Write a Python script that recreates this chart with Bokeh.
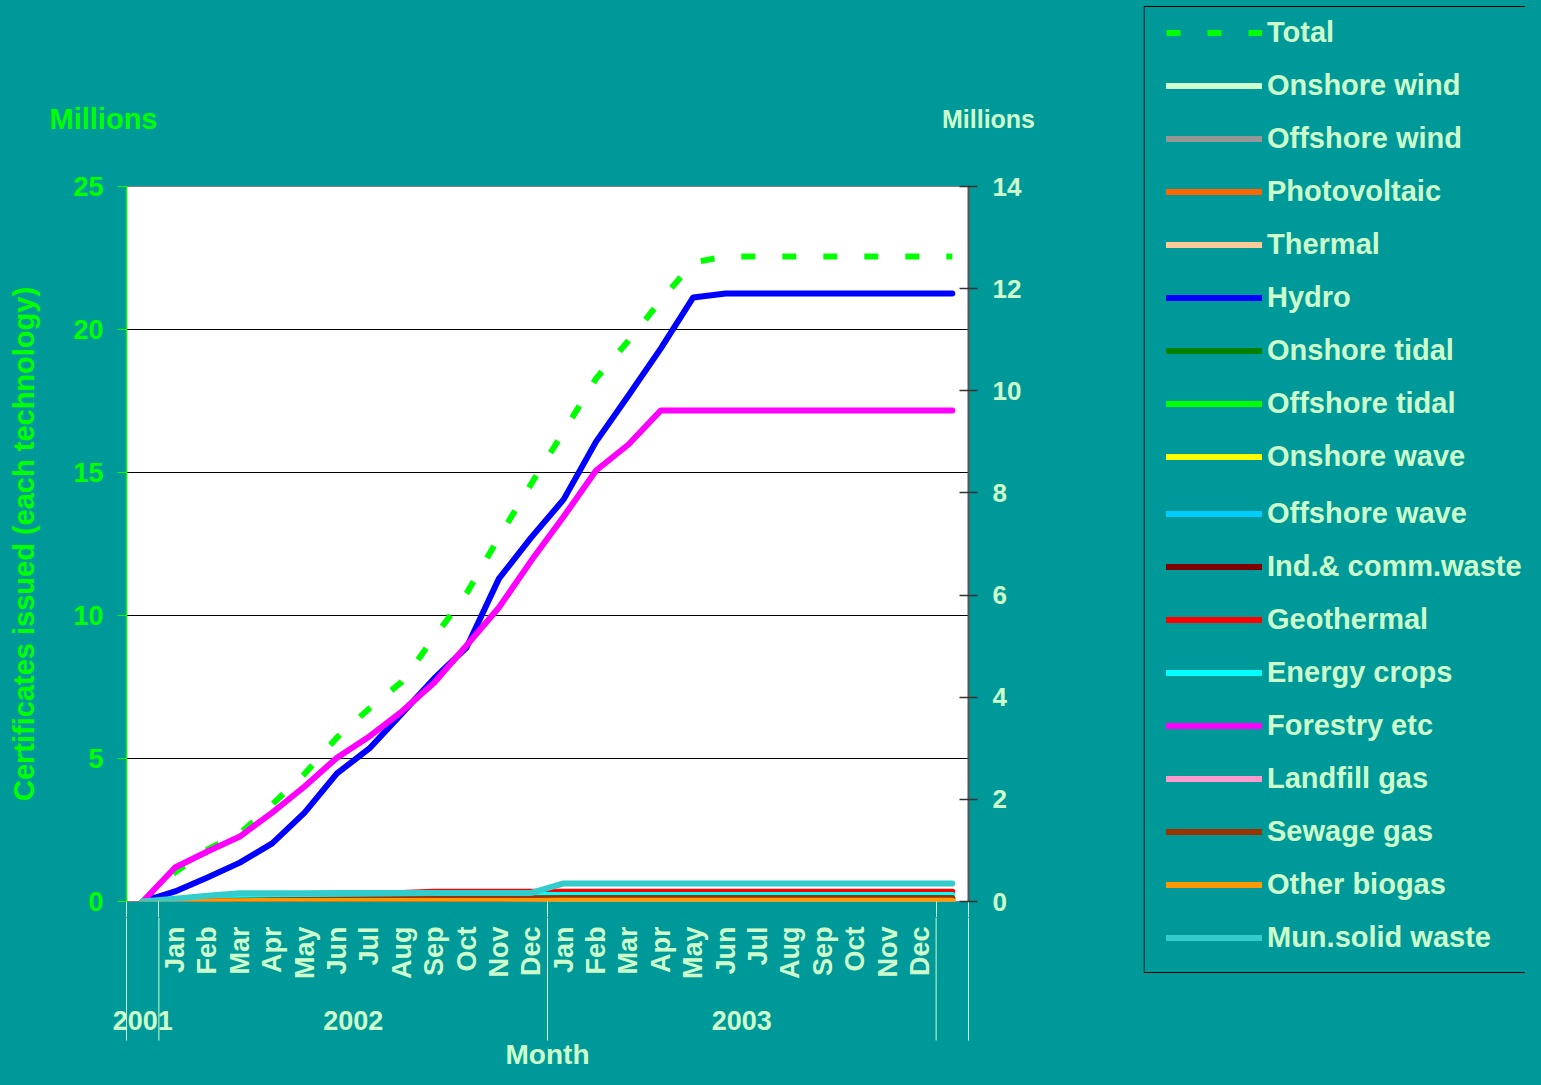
from bokeh.plotting import figure
from bokeh.layouts import row, column
from bokeh.models import Range1d, LinearAxis, FixedTicker, Legend, LegendItem, ColumnDataSource
from bokeh.core.properties import value
from bokeh.embed import file_html
from bokeh.resources import INLINE

# ------------------------------------------------------------------ data
year_labels = ["2001", "2002", "2003", ""]
year_sizes = [1, 12, 12, 1]
month_labels = ["",
                "Jan", "Feb", "Mar", "Apr", "May", "Jun", "Jul", "Aug", "Sep", "Oct", "Nov", "Dec",
                "Jan", "Feb", "Mar", "Apr", "May", "Jun", "Jul", "Aug", "Sep", "Oct", "Nov", "Dec",
                ""]

left_ticks = [0, 5, 10, 15, 20, 25]
right_ticks = [0, 2, 4, 6, 8, 10, 12, 14]

# Total is read on the right-hand axis (millions)
total = [0, 0.57, 1.02, 1.33, 1.90, 2.50, 3.21, 3.78, 4.30, 5.17, 6.03, 7.13, 8.18,
         9.20, 10.24, 10.98, 11.77, 12.51, 12.63, 12.63, 12.63, 12.63, 12.63, 12.63, 12.63, 12.63]
# technologies are read on the left-hand axis (millions)
onshore_wind = [0, 0, 0, 0, 0, 0, 0, 0, 0, 0, 0, 0, 0, 0, 0, 0, 0, 0, 0, 0, 0, 0, 0, 0, 0, 0]
offshore_wind = [0, 0, 0, 0, 0, 0, 0, 0, 0, 0, 0, 0, 0, 0, 0, 0, 0, 0, 0, 0, 0, 0, 0, 0, 0, 0]
photovoltaic = [0, 0, 0, 0, 0, 0, 0, 0, 0, 0, 0, 0, 0, 0, 0, 0, 0, 0, 0, 0, 0, 0, 0, 0, 0, 0]
thermal = [0, 0, 0, 0, 0, 0, 0, 0, 0, 0, 0, 0, 0, 0, 0, 0, 0, 0, 0, 0, 0, 0, 0, 0, 0, 0]
hydro = [0, 0.35, 0.84, 1.36, 2.03, 3.11, 4.48, 5.35, 6.57, 7.80, 8.88, 11.29, 12.73,
         14.06, 16.08, 17.69, 19.34, 21.12, 21.26, 21.26, 21.26, 21.26, 21.26, 21.26, 21.26, 21.26]
onshore_tidal = [0, 0, 0, 0, 0, 0, 0, 0, 0, 0, 0, 0, 0, 0, 0, 0, 0, 0, 0, 0, 0, 0, 0, 0, 0, 0]
offshore_tidal = [0, 0, 0, 0, 0, 0, 0, 0, 0, 0, 0, 0, 0, 0, 0, 0, 0, 0, 0, 0, 0, 0, 0, 0, 0, 0]
onshore_wave = [0, 0, 0, 0, 0, 0, 0, 0, 0, 0, 0, 0, 0, 0, 0, 0, 0, 0, 0, 0, 0, 0, 0, 0, 0, 0]
offshore_wave = [0, 0, 0, 0, 0, 0, 0, 0, 0, 0, 0, 0, 0, 0, 0, 0, 0, 0, 0, 0, 0, 0, 0, 0, 0, 0]
ind_comm_waste = [0, 0.01, 0.01, 0.02, 0.03, 0.04, 0.05, 0.06, 0.07, 0.08, 0.09, 0.09, 0.10,
                  0.11, 0.11, 0.11, 0.11, 0.11, 0.11, 0.11, 0.11, 0.11, 0.11, 0.11, 0.11, 0.11]
geothermal = [0, 0.05, 0.10, 0.14, 0.18, 0.21, 0.24, 0.27, 0.30, 0.34, 0.34, 0.34, 0.34,
              0.34, 0.34, 0.34, 0.34, 0.34, 0.34, 0.34, 0.34, 0.34, 0.34, 0.34, 0.34, 0.34]
energy_crops = [0, 0.04, 0.08, 0.12, 0.15, 0.18, 0.20, 0.21, 0.22, 0.22, 0.23, 0.23, 0.23,
                0.23, 0.23, 0.23, 0.23, 0.23, 0.23, 0.23, 0.23, 0.23, 0.23, 0.23, 0.23, 0.23]
forestry = [0, 1.19, 1.75, 2.27, 3.11, 4.02, 5.03, 5.77, 6.64, 7.65, 8.95, 10.28, 11.92,
            13.46, 15.07, 15.98, 17.17, 17.17, 17.17, 17.17, 17.17, 17.17, 17.17, 17.17, 17.17, 17.17]
landfill_gas = [0, 0, 0, 0, 0, 0, 0, 0, 0, 0, 0, 0, 0, 0, 0, 0, 0, 0, 0, 0, 0, 0, 0, 0, 0, 0]
sewage_gas = [0, 0.01, 0.02, 0.03, 0.04, 0.05, 0.06, 0.07, 0.08, 0.09, 0.10, 0.10, 0.11,
              0.12, 0.12, 0.12, 0.12, 0.12, 0.12, 0.12, 0.12, 0.12, 0.12, 0.12, 0.12, 0.12]
other_biogas = [0, 0.01, 0.01, 0.01, 0.02, 0.02, 0.02, 0.02, 0.02, 0.02, 0.02, 0.02, 0.02,
                0.03, 0.03, 0.03, 0.03, 0.03, 0.03, 0.03, 0.03, 0.03, 0.03, 0.03, 0.03, 0.03]
mun_solid_waste = [0, 0.10, 0.20, 0.29, 0.29, 0.29, 0.30, 0.30, 0.30, 0.30, 0.30, 0.30, 0.30,
                   0.63, 0.63, 0.63, 0.63, 0.63, 0.63, 0.63, 0.63, 0.63, 0.63, 0.63, 0.63, 0.63]

# ------------------------------------------------------------------ style
BG = "#009999"
PALE = "#CCFFCC"
GREEN = "#00FF00"
FONT = "Liberation Sans"

series = [
    ("Total", total, GREEN, "right"),
    ("Onshore wind", onshore_wind, "#CCFFCC", "default"),
    ("Offshore wind", offshore_wind, "#969696", "default"),
    ("Photovoltaic", photovoltaic, "#FF6600", "default"),
    ("Thermal", thermal, "#FFCC99", "default"),
    ("Hydro", hydro, "#0000FF", "default"),
    ("Onshore tidal", onshore_tidal, "#008000", "default"),
    ("Offshore tidal", offshore_tidal, "#00FF00", "default"),
    ("Onshore wave", onshore_wave, "#FFFF00", "default"),
    ("Offshore wave", offshore_wave, "#00CCFF", "default"),
    ("Ind.& comm.waste", ind_comm_waste, "#800000", "default"),
    ("Geothermal", geothermal, "#FF0000", "default"),
    ("Energy crops", energy_crops, "#00FFFF", "default"),
    ("Forestry etc", forestry, "#FF00FF", "default"),
    ("Landfill gas", landfill_gas, "#FF99CC", "default"),
    ("Sewage gas", sewage_gas, "#993300", "default"),
    ("Other biogas", other_biogas, "#FF9900", "default"),
    ("Mun.solid waste", mun_solid_waste, "#33CCCC", "default"),
]

# ------------------------------------------------------------------ geometry (page pixels)
W, H = 1525, 1069
LEFT_W = 1143                 # width of the chart column, legend to its right
PLOT_L, PLOT_R = 126, 968     # plot area edges
PLOT_T, PLOT_B = 186, 901
PAD = 16                      # room for the end tick labels
n = len(month_labels)
ppx = (PLOT_R - PLOT_L) / n   # pixels per category
TOP_H = PLOT_T - PAD
BOT_T = PLOT_B + PAD
BOT_H = H - BOT_T


def line_style(name, color):
    if name == "Total":
        return dict(line_color=color, line_width=6, line_dash="14 27", line_cap="butt")
    return dict(line_color=color, line_width=6, line_cap="round", line_join="round")


def bare(fig):
    fig.grid.visible = False
    return fig


common = dict(output_backend="svg", toolbar_location=None, border_fill_color=BG,
              background_fill_color=BG, outline_line_color=None, frame_align=False,
              min_border_left=0, min_border_right=0, min_border_top=0, min_border_bottom=0)

# ------------------------------------------------------------------ top strip: "Millions"
top = figure(width=LEFT_W, height=TOP_H, x_range=Range1d(0, LEFT_W), y_range=Range1d(-TOP_H, 0),
             x_axis_location=None, y_axis_location=None, **common)
bare(top)
top.text(x=[103], y=[-118], text=["Millions"], text_align="center", text_baseline="middle",
         text_color=GREEN, text_font=value(FONT), text_font_style="bold", text_font_size="29px")
top.text(x=[988], y=[-118], text=["Millions"], text_align="center", text_baseline="middle",
         text_color=PALE, text_font=value(FONT), text_font_style="bold", text_font_size="25px")

# ------------------------------------------------------------------ main plot
main_args = dict(common)
main_args.update(min_border_left=PLOT_L, min_border_right=LEFT_W - PLOT_R,
                 min_border_top=PAD, min_border_bottom=PAD,
                 background_fill_color="white", outline_line_color="#808080")
p = figure(width=LEFT_W, height=PLOT_B - PLOT_T + 2 * PAD, x_range=Range1d(0, n),
           y_range=Range1d(left_ticks[0], left_ticks[-1]), **main_args)
p.extra_y_ranges = {"right": Range1d(right_ticks[0], right_ticks[-1])}
p.xgrid.visible = False

bounds = [0]
for s in year_sizes:
    bounds.append(bounds[-1] + s)

# x axis: only the group separators (as long ticks), labels are drawn in the strip below
xa = p.xaxis[0]
xa.ticker = FixedTicker(ticks=bounds)
xa.axis_line_color = None
xa.major_tick_in = 0
xa.major_tick_out = PAD
xa.major_tick_line_color = PALE
xa.major_tick_line_width = 1
xa.minor_tick_line_color = None
xa.major_label_overrides = {b: "" for b in bounds}
xa.major_label_text_font_size = "0px"
xa.major_label_standoff = 0

ya = p.yaxis[0]
ya.ticker = FixedTicker(ticks=left_ticks)
ya.axis_line_color = GREEN
ya.axis_line_width = 1.5
ya.major_tick_line_color = GREEN
ya.major_tick_in = 0
ya.major_tick_out = 9
ya.minor_tick_line_color = None
ya.major_label_text_color = GREEN
ya.major_label_text_font = FONT
ya.major_label_text_font_style = "bold"
ya.major_label_text_font_size = "27px"
ya.major_label_standoff = 14
ya.axis_label = "Certificates issued (each technology)"
ya.axis_label_text_color = GREEN
ya.axis_label_text_font = FONT
ya.axis_label_text_font_style = "bold"
ya.axis_label_text_font_size = "29px"
ya.axis_label_standoff = 30

p.ygrid.ticker = FixedTicker(ticks=left_ticks)
p.ygrid.grid_line_color = "black"
p.ygrid.grid_line_width = 1

ra = LinearAxis(y_range_name="right", ticker=FixedTicker(ticks=right_ticks))
ra.axis_line_color = "#555555"
ra.axis_line_width = 2
ra.major_tick_line_color = "#333333"
ra.major_tick_line_width = 1.5
ra.major_tick_in = 9
ra.major_tick_out = 9
ra.minor_tick_line_color = None
ra.major_label_text_color = PALE
ra.major_label_text_font = FONT
ra.major_label_text_font_style = "bold"
ra.major_label_text_font_size = "26px"
ra.major_label_standoff = 15
p.add_layout(ra, "right")

xc = [i + 0.5 for i in range(n)]
for name, vals, color, rng in series:
    p.line(xc, vals, y_range_name=rng, **line_style(name, color))

# ------------------------------------------------------------------ category label strip
bot = figure(width=LEFT_W, height=BOT_H,
             x_range=Range1d(-PLOT_L / ppx, (LEFT_W - PLOT_L) / ppx), y_range=Range1d(-BOT_H, 0),
             x_axis_location=None, y_axis_location=None, **common)
bare(bot)
bot.segment(x0=bounds, x1=bounds, y0=[0] * len(bounds), y1=[BOT_T - 1040] * len(bounds),
            line_color=PALE, line_width=1)
msrc = ColumnDataSource(dict(x=xc, y=[BOT_T - 926] * n, t=month_labels))
bot.text(x="x", y="y", text="t", source=msrc, angle=1.5708, text_align="right",
         text_baseline="middle", text_color=PALE, text_font=value(FONT),
         text_font_style="bold", text_font_size="27px")
ysrc = ColumnDataSource(dict(x=[(bounds[i] + bounds[i + 1]) / 2 for i in range(len(year_labels))],
                             y=[BOT_T - 1020] * len(year_labels), t=year_labels))
bot.text(x="x", y="y", text="t", source=ysrc, text_align="center", text_baseline="middle",
         text_color=PALE, text_font=value(FONT), text_font_style="bold", text_font_size="27px")
bot.text(x=[n / 2], y=[BOT_T - 1054], text=["Month"], text_align="center", text_baseline="middle",
         text_color=PALE, text_font=value(FONT), text_font_style="bold", text_font_size="28px")

# ------------------------------------------------------------------ legend panel
LEG_W = W - LEFT_W
leg = figure(width=LEG_W, height=H, x_range=Range1d(LEFT_W, W), y_range=Range1d(-H, 0),
             x_axis_location=None, y_axis_location=None, **common)
bare(leg)
leg.quad(left=[LEFT_W + 0.5], right=[W + 50], top=[-6], bottom=[-972],
         fill_color=None, line_color="black", line_width=1)
items = []
for name, vals, color, rng in series:
    # off-view stand-in carrying the same style, so the legend can draw its sample
    r = leg.line(x=[0, 1], y=[0, 0], **line_style(name, color))
    items.append(LegendItem(label=name, renderers=[r]))

leg_style = dict(orientation="vertical", glyph_width=96, glyph_height=41, label_height=41,
                 spacing=12, padding=0, margin=0, label_standoff=5,
                 border_line_color=None, background_fill_alpha=0,
                 label_text_font=FONT, label_text_font_size="29px",
                 label_text_font_style="bold", label_text_color=PALE,
                 label_text_baseline="middle")
leg1 = Legend(items=items[:9], location=(23, H - 477), **leg_style)
leg2 = Legend(items=items[9:], location=(23, H - 958), **leg_style)
leg.add_layout(leg1, "center")
leg.add_layout(leg2, "center")

layout = row(column(top, p, bot, spacing=0), leg, spacing=0)

html = file_html(layout, INLINE)
html = html.replace("<head>", "<head><style>html, body { background-color: #009999; }</style>", 1)
open("out.html", "w").write(html)
